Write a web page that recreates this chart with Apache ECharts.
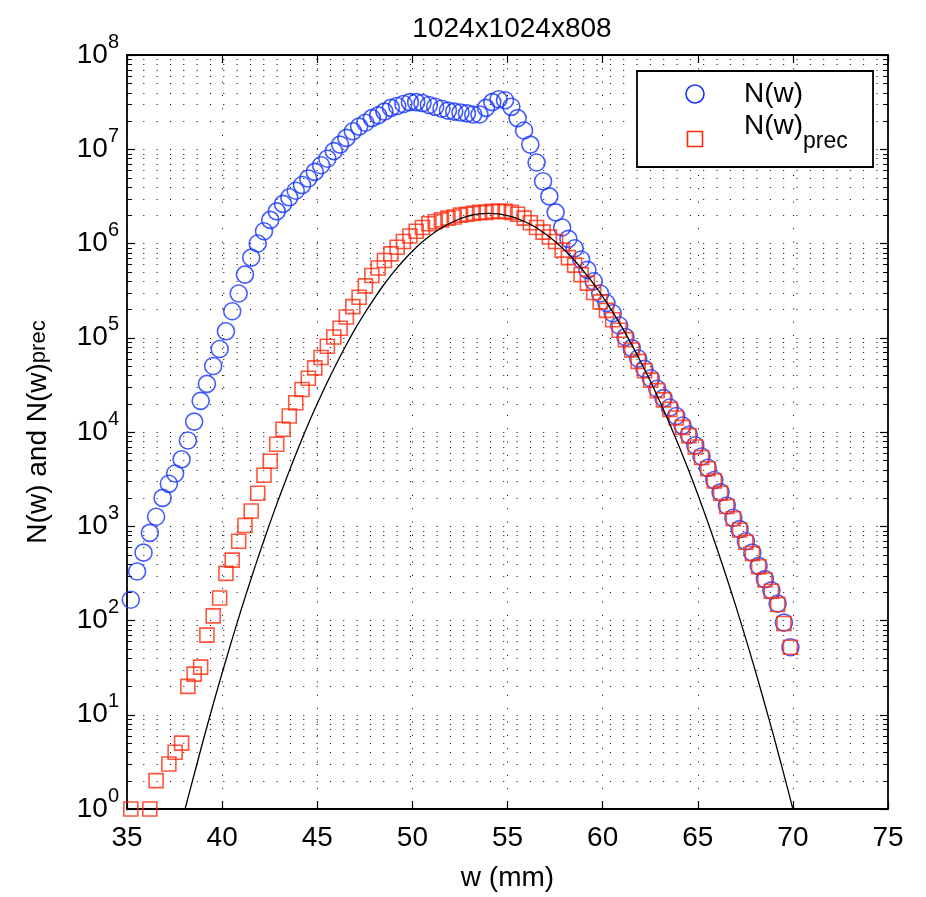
<!DOCTYPE html>
<html>
<head>
<meta charset="utf-8">
<script src="https://cdn.jsdelivr.net/npm/echarts@6/dist/echarts.min.js"></script>
<style>
  html, body { margin: 0; padding: 0; background: #fff; }
  #chart { width: 926px; height: 897px; }
</style>
</head>
<body>
<div id="chart"></div>
<script>
// Particle width grid (mm)
const wGrid = [
  35.20, 35.53, 35.87, 36.20, 36.53, 36.87, 37.20, 37.53, 37.87, 38.20,
  38.53, 38.87, 39.20, 39.53, 39.87, 40.20, 40.53, 40.87, 41.20, 41.53,
  41.87, 42.20, 42.53, 42.87, 43.20, 43.53, 43.87, 44.20, 44.53, 44.87,
  45.20, 45.53, 45.87, 46.20, 46.53, 46.87, 47.20, 47.53, 47.87, 48.20,
  48.53, 48.87, 49.20, 49.53, 49.87, 50.20, 50.53, 50.87, 51.20, 51.53,
  51.87, 52.20, 52.53, 52.87, 53.20, 53.53, 53.87, 54.20, 54.53, 54.87,
  55.20, 55.53, 55.87, 56.20, 56.53, 56.87, 57.20, 57.53, 57.87, 58.20,
  58.53, 58.87, 59.20, 59.53, 59.87, 60.20, 60.53, 60.87, 61.20, 61.53,
  61.87, 62.20, 62.53, 62.87, 63.20, 63.53, 63.87, 64.20, 64.53, 64.87,
  65.20, 65.53, 65.87, 66.20, 66.53, 66.87, 67.20, 67.53, 67.87, 68.20,
  68.53, 68.87, 69.20, 69.53, 69.87
];

// N(w): all counts per width bin
const nTotal = [
  166, 331, 525, 851, 1260, 2000, 2820, 3630, 5130, 8130,
  12900, 21400, 32400, 50100, 75900, 117000, 191000, 295000, 468000, 708000,
  1000000, 1350000, 1780000, 2190000, 2630000, 3090000, 3630000, 4170000, 4900000, 5750000,
  6760000, 7940000, 9550000, 11200000, 13200000, 15500000, 17400000, 19100000, 21400000, 22900000,
  25100000, 27500000, 28800000, 30200000, 31600000, 31600000, 30900000, 29500000, 28200000, 26900000,
  25700000, 25100000, 24500000, 24000000, 23400000, 23400000, 27500000, 31600000, 33900000, 33100000,
  28200000, 21400000, 15800000, 11200000, 7240000, 4570000, 3160000, 2140000, 1480000, 1120000,
  891000, 676000, 525000, 398000, 295000, 234000, 182000, 135000, 102000, 77600,
  60300, 46800, 37200, 28800, 22900, 18200, 14800, 11700, 9330, 7240,
  5500, 4170, 3090, 2290, 1660, 1230, 933, 692, 525, 380,
  275, 209, 151, 95, 52
];

// N(w)_prec: precipitation counts (null = empty bin)
const nPrec = [
  1, null, null, 1, 2, null, 3, 4, 5, 20,
  27, 32, 70, 112, 173, 316, 437, 692, 1020, 1450,
  2240, 3470, 4900, 7410, 10700, 14800, 20400, 28200, 37200, 47900,
  61700, 81300, 102000, 126000, 166000, 214000, 269000, 355000, 457000, 550000,
  661000, 776000, 912000, 1050000, 1200000, 1350000, 1480000, 1620000, 1700000, 1780000,
  1860000, 1910000, 2000000, 2040000, 2090000, 2140000, 2140000, 2190000, 2190000, 2190000,
  2140000, 2040000, 1860000, 1660000, 1480000, 1320000, 1170000, 1050000, 851000, 708000,
  589000, 468000, 380000, 302000, 240000, 195000, 155000, 120000, 95500, 74100,
  56200, 44700, 35500, 27500, 21900, 17400, 14100, 11200, 9120, 6920,
  5370, 4070, 3020, 2240, 1620, 1200, 912, 676, 513, 372,
  269, 204, 148, 93, 52
];

// Fitted curve
const fitW = [
  38.05, 38.5, 39.0, 39.5, 40.0, 40.5, 41.0, 41.5, 42.0, 42.5,
  43.0, 43.5, 44.0, 44.5, 45.0, 45.5, 46.0, 46.5, 47.0, 47.5,
  48.0, 48.5, 49.0, 49.5, 50.0, 50.5, 51.0, 51.5, 52.0, 52.5,
  53.0, 53.5, 54.0, 54.5, 55.0, 55.5, 56.0, 56.5, 57.0, 57.5,
  58.0, 58.5, 59.0, 59.5, 60.0, 60.5, 61.0, 61.5, 62.0, 62.5,
  63.0, 63.5, 64.0, 64.5, 65.0, 65.5, 66.0, 66.5, 67.0, 67.5,
  68.0, 68.5, 69.0, 69.5, 70.0
];
const fitN = [
  1, 2.2, 5.3, 12.3, 27.7, 60.7, 130, 269, 542, 1060,
  2020, 3730, 6710, 11800, 19900, 32900, 52700, 82200, 125000, 183000,
  262000, 365000, 493000, 648000, 827000, 1030000, 1240000, 1450000, 1650000, 1830000,
  1970000, 2060000, 2090000, 2060000, 1980000, 1850000, 1670000, 1480000, 1260000, 1050000,
  850000, 668000, 510000, 379000, 273000, 192000, 131000, 86600, 55700, 34900,
  21200, 12500, 7190, 4020, 2180, 1150, 588, 293, 142, 66.7,
  30.5, 13.5, 5.85, 2.45, 1
];

const titleText = '1024x1024x808';
const xName = 'w (mm)';
const seriesNames = ['N(w)', 'N(w)prec'];

const FONT = '"Liberation Sans", Arial, Helvetica, sans-serif';
const BLUE = '#1535ff';
const RED = '#ff2a0c';
const DOTS = [1, 12.33];

const pairs = (xs, ys) => xs.map((x, i) => [x, ys[i]]).filter(p => p[1] != null);

// minor log gridlines: 2..9 within each decade
const minorVals = [];
for (let e = 0; e < 8; e++) for (let m = 2; m <= 9; m++) minorVals.push([35, m * Math.pow(10, e)]);

function renderMinor(params, api) {
  const cs = params.coordSys;
  const y = Math.round(api.coord([35, api.value(1)])[1]) + 0.5;
  const x0 = cs.x, x1 = cs.x + cs.width;
  return {
    type: 'group',
    children: [
      { type: 'line', shape: { x1: x0, y1: y, x2: x1, y2: y },
        style: { stroke: '#000', lineWidth: 1, lineDash: DOTS, lineDashOffset: -3 } },
      { type: 'line', shape: { x1: x0, y1: y, x2: x0 + 5, y2: y },
        style: { stroke: '#000', lineWidth: 1 } },
      { type: 'line', shape: { x1: x1 - 5, y1: y, x2: x1, y2: y },
        style: { stroke: '#000', lineWidth: 1 } }
    ]
  };
}

const axisLineStyle = { color: '#000', width: 1.8 };
const tickStyle = { color: '#000', width: 1.2 };

// legend box, drawn as plain graphics
const legendText = (x, y, text, size) => ({
  type: 'text', x, y, z: 101,
  style: { text, fontSize: size, fontFamily: FONT, fill: '#000', align: 'left', verticalAlign: 'middle' }
});
const legendGraphics = [
  { type: 'rect', z: 100, shape: { x: 637, y: 71, width: 236, height: 96 },
    style: { fill: '#fff', stroke: '#000', lineWidth: 1.8 } },
  { type: 'circle', z: 101, shape: { cx: 695, cy: 94, r: 9 },
    style: { fill: 'none', stroke: BLUE, lineWidth: 1.6 } },
  { type: 'rect', z: 101, shape: { x: 687.5, y: 131.5, width: 15, height: 15 },
    style: { fill: 'none', stroke: RED, lineWidth: 1.6 } },
  legendText(744, 94, 'N(w)', 28),
  legendText(744, 126, 'N(w)', 28),
  legendText(803, 142, 'prec', 23)
];

const chart = echarts.init(document.getElementById('chart'), null, { renderer: 'canvas' });
chart.setOption({
  animation: false,
  backgroundColor: '#fff',
  textStyle: { fontFamily: FONT },
  title: {
    text: titleText, left: 507, top: 10, textAlign: 'center',
    textStyle: { fontSize: 28, fontWeight: 'normal', color: '#000', fontFamily: FONT }
  },
  grid: { left: 127, top: 55, right: 38, bottom: 81 },
  graphic: legendGraphics,
  xAxis: [
    {
      type: 'value', min: 35, max: 75, interval: 5, position: 'bottom',
      name: xName, nameLocation: 'middle', nameGap: 55,
      nameTextStyle: { fontSize: 28, color: '#000', fontFamily: FONT },
      axisLine: { show: true, onZero: false, lineStyle: axisLineStyle },
      axisTick: { show: true, inside: true, length: 8, lineStyle: tickStyle },
      axisLabel: { fontSize: 28, color: '#000', margin: 15, fontFamily: FONT },
      splitLine: { show: true, lineStyle: { color: '#000', width: 1, type: DOTS } }
    },
    {
      type: 'value', min: 35, max: 75, interval: 5, position: 'top',
      axisLine: { show: true, onZero: false, lineStyle: axisLineStyle },
      axisTick: { show: true, inside: true, length: 8, lineStyle: tickStyle },
      axisLabel: { show: false },
      splitLine: { show: false }
    }
  ],
  yAxis: [
    {
      type: 'log', logBase: 10, min: 1, max: 1e8, interval: 1, position: 'left',
      name: '{m|N(w) and N(w)}{s|prec}', nameLocation: 'middle', nameRotate: 90, nameGap: 74,
      nameTextStyle: {
        color: '#000', fontFamily: FONT,
        rich: {
          m: { fontSize: 28, lineHeight: 32, verticalAlign: 'top', padding: [3, 0, 0, 0], color: '#000', fontFamily: FONT },
          s: { fontSize: 22, verticalAlign: 'top', padding: [7, 0, 0, 0], color: '#000', fontFamily: FONT }
        }
      },
      axisLine: { show: true, onZero: false, lineStyle: axisLineStyle },
      axisTick: { show: true, inside: true, length: 8, lineStyle: tickStyle },
      axisLabel: {
        margin: 8, color: '#000', fontFamily: FONT,
        formatter: v => '{b|10}{e|' + Math.round(Math.log10(v)) + '}',
        rich: {
          b: { fontSize: 28, lineHeight: 46, verticalAlign: 'middle', color: '#000', fontFamily: FONT },
          e: { fontSize: 20, verticalAlign: 'top', color: '#000', fontFamily: FONT }
        }
      },
      splitLine: { show: true, lineStyle: { color: '#000', width: 1, type: DOTS, dashOffset: -3 } }
    },
    {
      type: 'log', logBase: 10, min: 1, max: 1e8, interval: 1, position: 'right',
      axisLine: { show: true, onZero: false, lineStyle: axisLineStyle },
      axisTick: { show: true, inside: true, length: 8, lineStyle: tickStyle },
      axisLabel: { show: false },
      splitLine: { show: false }
    }
  ],
  series: [
    {
      type: 'custom', name: 'minor', xAxisIndex: 0, yAxisIndex: 0,
      data: minorVals, renderItem: renderMinor, silent: true, clip: false, z: 1
    },
    {
      type: 'scatter', name: seriesNames[0], xAxisIndex: 0, yAxisIndex: 0,
      data: pairs(wGrid, nTotal), symbol: 'circle', symbolSize: 17,
      itemStyle: { color: 'rgba(0,0,0,0)', borderColor: BLUE, borderWidth: 1.6 },
      z: 3
    },
    {
      type: 'scatter', name: seriesNames[1], xAxisIndex: 0, yAxisIndex: 0,
      data: pairs(wGrid, nPrec), symbol: 'rect', symbolSize: 14,
      itemStyle: { color: 'rgba(0,0,0,0)', borderColor: RED, borderWidth: 1.6 },
      z: 4
    },
    {
      type: 'line', name: 'fit', xAxisIndex: 0, yAxisIndex: 0,
      data: pairs(fitW, fitN), showSymbol: false, smooth: 0.3,
      lineStyle: { color: '#000', width: 1.3 }, z: 5
    }
  ]
});
</script>
</body>
</html>
